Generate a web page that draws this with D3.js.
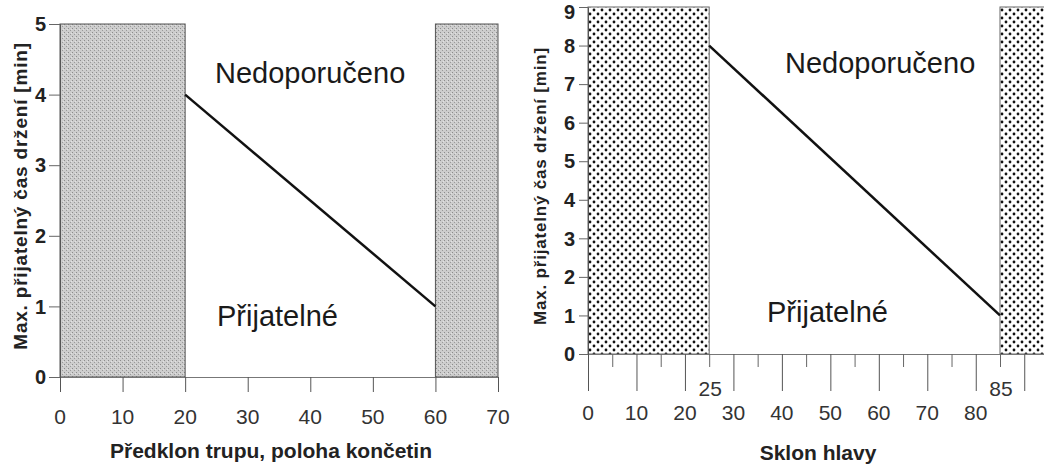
<!DOCTYPE html>
<html>
<head>
<meta charset="utf-8">
<script src="https://cdn.jsdelivr.net/npm/d3@7"></script>
<style>
  body { margin: 0; background: #fff; }
  svg { display: block; }
  .num { font-family: "Liberation Sans Narrow", "Liberation Sans", Arial, sans-serif; font-size: 21px; fill: #333; }
  .ynum { font-family: "Liberation Sans", Arial, sans-serif; font-size: 20px; font-weight: bold; fill: #222; }
  .title { font-family: "Liberation Sans", Arial, sans-serif; font-weight: bold; fill: #222; }
  .zonelabel { font-family: "Liberation Sans", Arial, sans-serif; font-size: 29px; fill: #1a1a1a; }
</style>
</head>
<body>
<div id="graph"></div>
<script>
// left chart: Předklon trupu
var trupTicksX = [0, 10, 20, 30, 40, 50, 60, 70];
var trupTicksY = [0, 1, 2, 3, 4, 5];
var trupZones = [[0, 20], [60, 70]];
var trupLimit = [{x: 20, y: 4}, {x: 60, y: 1}];
var trupYMax = 5;

// right chart: Sklon hlavy
var hlavaLabelsX = [0, 10, 20, 30, 40, 50, 60, 70, 80];
var hlavaLongTicks = [0, 10, 20, 30, 40, 50, 60, 70, 80, 90];
var hlavaShortTicks = [5, 15, 25, 35, 45, 55, 65, 75, 85];
var hlavaLowLabels = [25, 85];
var hlavaTicksY = [0, 1, 2, 3, 4, 5, 6, 7, 8, 9];
var hlavaZones = [[0, 25], [85, 95]];
var hlavaLimit = [{x: 25, y: 8}, {x: 85, y: 1}];
var hlavaYMax = 9;

var yTitle = "Max. přijatelný čas držení [min]";

init();

function init() {
    var vis = d3.select("#graph").append("svg")
        .attr("width", 1044)
        .attr("height", 464);

    var defs = vis.append("defs");

    // grey stipple for the left chart
    var grey = defs.append("pattern")
        .attr("id", "grey")
        .attr("patternUnits", "userSpaceOnUse")
        .attr("width", 4).attr("height", 4);
    grey.append("rect").attr("width", 4).attr("height", 4).attr("fill", "#cdcdcd");
    grey.append("rect").attr("x", 0).attr("y", 0).attr("width", 1).attr("height", 1).attr("fill", "#8c8c8c");
    grey.append("rect").attr("x", 2).attr("y", 2).attr("width", 1).attr("height", 1).attr("fill", "#9a9a9a");
    grey.append("rect").attr("x", 3).attr("y", 1).attr("width", 1).attr("height", 1).attr("fill", "#e2e2e2");

    // dot pattern for the right chart
    var dots = defs.append("pattern")
        .attr("id", "dots")
        .attr("patternUnits", "userSpaceOnUse")
        .attr("width", 8).attr("height", 8);
    dots.append("rect").attr("width", 8).attr("height", 8).attr("fill", "#fff");
    dots.append("circle").attr("cx", 2).attr("cy", 2).attr("r", 1.4).attr("fill", "#111");
    dots.append("circle").attr("cx", 6).attr("cy", 6).attr("r", 1.4).attr("fill", "#111");

    // ---------- left chart ----------
    var x1 = d3.scaleLinear().domain([0, 70]).range([60, 498]);
    var y1 = d3.scaleLinear().domain([0, trupYMax]).range([377, 24]);
    var g1 = vis.append("g");

    g1.selectAll("rect.band")
        .data(trupZones)
        .enter()
        .append("rect")
        .attr("class", "band")
        .attr("x", function(d) { return x1(d[0]); })
        .attr("y", y1(trupYMax))
        .attr("width", function(d) { return x1(d[1]) - x1(d[0]); })
        .attr("height", y1(0) - y1(trupYMax))
        .attr("fill", "url(#grey)")
        .attr("stroke", "#555")
        .attr("stroke-width", 1);

    var ax1 = g1.append("g")
        .attr("transform", "translate(0," + y1(0) + ")")
        .call(d3.axisBottom(x1).tickValues(trupTicksX).tickSize(15).tickSizeOuter(0).tickFormat(""));
    ax1.selectAll("line").attr("stroke", "#555");
    ax1.select(".domain").attr("stroke", "#777");

    var ay1 = g1.append("g")
        .attr("transform", "translate(" + x1(0) + ",0)")
        .call(d3.axisLeft(y1).tickValues(trupTicksY).tickSize(11).tickSizeOuter(0).tickFormat(""));
    ay1.selectAll("line").attr("stroke", "#666");
    ay1.select(".domain").attr("stroke", "#555");

    g1.selectAll("text.xnum")
        .data(trupTicksX)
        .enter()
        .append("text")
        .attr("class", "num")
        .attr("x", function(d) { return x1(d); })
        .attr("y", 424)
        .attr("text-anchor", "middle")
        .text(function(d) { return d; });

    g1.selectAll("text.ynum")
        .data(trupTicksY)
        .enter()
        .append("text")
        .attr("class", "ynum")
        .attr("x", 46)
        .attr("y", function(d) { return Math.max(y1(d), 12); })
        .attr("dy", "0.36em")
        .attr("text-anchor", "end")
        .text(function(d) { return d; });

    g1.append("path")
        .datum(trupLimit)
        .attr("fill", "none")
        .attr("stroke", "#111")
        .attr("stroke-width", 2.5)
        .attr("d", d3.line().x(function(d) { return x1(d.x); }).y(function(d) { return y1(d.y); }));

    g1.append("text").attr("class", "zonelabel").attr("x", 215).attr("y", 83).text("Nedoporučeno");
    g1.append("text").attr("class", "zonelabel").attr("x", 217).attr("y", 326).text("Přijatelné");

    g1.append("text")
        .attr("class", "title")
        .style("font-size", "21px")
        .attr("x", 271).attr("y", 458)
        .attr("text-anchor", "middle")
        .text("Předklon trupu, poloha končetin");

    g1.append("text")
        .attr("class", "title")
        .style("font-size", "19px")
        .style("letter-spacing", "0.8px")
        .attr("text-anchor", "middle")
        .attr("transform", "translate(27,196) rotate(-90)")
        .text(yTitle);

    // ---------- right chart ----------
    var x2 = d3.scaleLinear().domain([0, 95]).range([588, 588 + 95 * (412 / 85)]);
    var y2 = d3.scaleLinear().domain([0, hlavaYMax]).range([354, 7]);
    var g2 = vis.append("g");

    g2.selectAll("rect.band")
        .data(hlavaZones)
        .enter()
        .append("rect")
        .attr("class", "band")
        .attr("x", function(d) { return x2(d[0]); })
        .attr("y", y2(hlavaYMax))
        .attr("width", function(d) { return x2(d[1]) - x2(d[0]); })
        .attr("height", y2(0) - y2(hlavaYMax))
        .attr("fill", "url(#dots)")
        .attr("stroke", "#666")
        .attr("stroke-width", 1);

    var ax2 = g2.append("g")
        .attr("transform", "translate(0," + y2(0) + ")")
        .call(d3.axisBottom(x2).tickValues(hlavaLongTicks).tickSize(37).tickSizeOuter(0).tickFormat(""));
    ax2.selectAll("line").attr("stroke", "#555");
    ax2.select(".domain").attr("stroke", "#777");

    var ax2s = g2.append("g")
        .attr("transform", "translate(0," + y2(0) + ")")
        .call(d3.axisBottom(x2).tickValues(hlavaShortTicks).tickSize(13).tickSizeOuter(0).tickFormat(""));
    ax2s.selectAll("line").attr("stroke", "#666");
    ax2s.select(".domain").remove();

    var ay2 = g2.append("g")
        .attr("transform", "translate(" + x2(0) + ",0)")
        .call(d3.axisLeft(y2).tickValues(hlavaTicksY).tickSize(9).tickSizeOuter(0).tickFormat(""));
    ay2.selectAll("line").attr("stroke", "#666");
    ay2.select(".domain").attr("stroke", "#555");

    g2.selectAll("text.xnum")
        .data(hlavaLabelsX)
        .enter()
        .append("text")
        .attr("class", "num")
        .attr("x", function(d) { return x2(d); })
        .attr("y", 420)
        .attr("text-anchor", "middle")
        .text(function(d) { return d; });

    g2.selectAll("text.lownum")
        .data(hlavaLowLabels)
        .enter()
        .append("text")
        .attr("class", "num")
        .attr("x", function(d) { return x2(d) + 1; })
        .attr("y", 396)
        .attr("text-anchor", "middle")
        .text(function(d) { return d; });

    g2.selectAll("text.ynum")
        .data(hlavaTicksY)
        .enter()
        .append("text")
        .attr("class", "ynum")
        .attr("x", 575)
        .attr("y", function(d) { return Math.max(y2(d), 12); })
        .attr("dy", "0.36em")
        .attr("text-anchor", "end")
        .text(function(d) { return d; });

    g2.append("path")
        .datum(hlavaLimit)
        .attr("fill", "none")
        .attr("stroke", "#111")
        .attr("stroke-width", 2.5)
        .attr("d", d3.line().x(function(d) { return x2(d.x); }).y(function(d) { return y2(d.y); }));

    g2.append("text").attr("class", "zonelabel").attr("x", 785).attr("y", 73).text("Nedoporučeno");
    g2.append("text").attr("class", "zonelabel").attr("x", 767).attr("y", 322).text("Přijatelné");

    g2.append("text")
        .attr("class", "title")
        .style("font-size", "21px")
        .attr("x", 818).attr("y", 460)
        .attr("text-anchor", "middle")
        .text("Sklon hlavy");

    g2.append("text")
        .attr("class", "title")
        .style("font-size", "17px")
        .style("letter-spacing", "0.8px")
        .attr("text-anchor", "middle")
        .attr("transform", "translate(546,186) rotate(-90)")
        .text(yTitle);
}
</script>
</body>
</html>
